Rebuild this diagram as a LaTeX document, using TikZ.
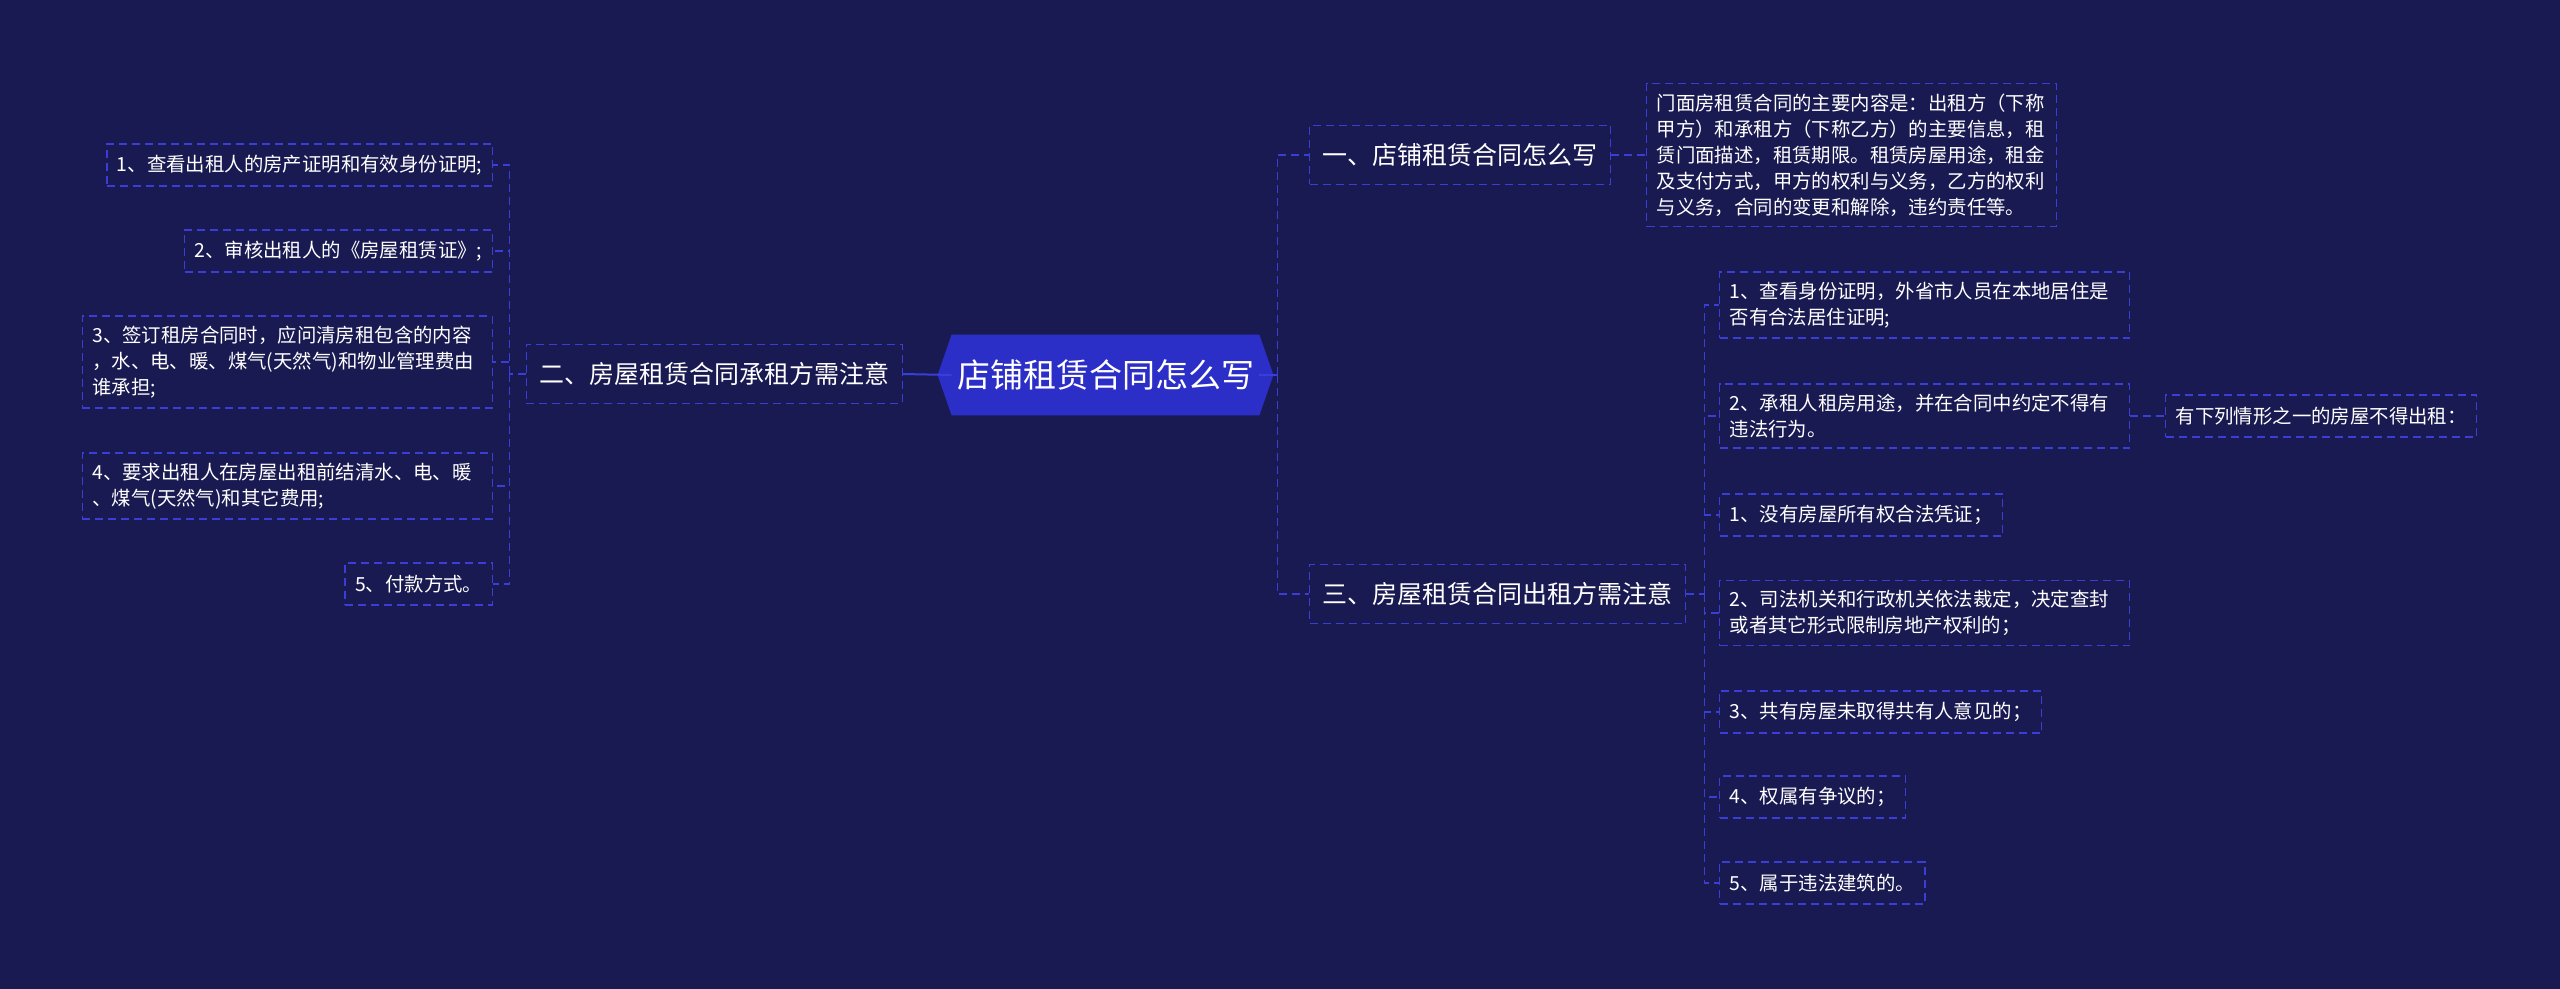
\documentclass[tikz,border=0pt]{standalone}
\usepackage{fontspec}
\setmainfont{Noto Sans CJK SC}
\usepackage{tikz}
\usetikzlibrary{positioning,calc,backgrounds}

\definecolor{fundo}{HTML}{1A1A52}
\definecolor{azulhex}{HTML}{2C2EC8}
\definecolor{linha}{HTML}{3A3ED6}

\begin{document}
\begin{tikzpicture}[
  x=0.5pt,y=-0.5pt,
  rootbox/.style={rectangle,minimum width=153.5pt,minimum height=40pt,inner sep=0pt,
    text=white,font=\fontsize{16.5pt}{20pt}\selectfont},
  ramo/.style={rectangle,draw=linha,dash pattern=on 4pt off 2.5pt,line width=0.7pt,
    text=white,inner xsep=6.5pt,minimum height=29.5pt,
    font=\fontsize{12.5pt}{15pt}\selectfont},
  folha/.style={rectangle,draw=linha,dash pattern=on 4pt off 2.5pt,line width=0.7pt,
    text=white,align=left,inner xsep=5pt,inner ysep=5pt,minimum height=21pt,
    font=\fontsize{9.7pt}{13pt}\selectfont},
  largo/.style={text width=195pt},
  conn/.style={draw=linha,line width=0.8pt,dash pattern=on 4pt off 2.5pt},
  haste/.style={draw=linha,line width=1pt}
]
% ── Nó central ───────────────────────────────────────────────────────────────
\node[rootbox] (raiz) at (1105.5,375) {店铺租赁合同怎么写};

% ── Ramo esquerdo (二) ───────────────────────────────────────────────────────
\node[ramo,anchor=east] (B) at (903,374) {二、房屋租赁合同承租方需注意};
\node[folha,anchor=east] (B1) at (493,165) {1、查看出租人的房产证明和有效身份证明;};
\node[folha,anchor=east] (B2) at (493,251) {2、审核出租人的《房屋租赁证》;};
\node[folha,largo,anchor=east] (B3) at (493,362)
  {3、签订租房合同时，应问清房租包含的内容\\，水、电、暖、煤气(天然气)和物业管理费由\\谁承担;};
\node[folha,largo,anchor=east] (B4) at (493,486)
  {4、要求出租人在房屋出租前结清水、电、暖\\、煤气(天然气)和其它费用;};
\node[folha,anchor=east] (B5) at (493,584) {5、付款方式。};

% ── Ramos direitos (一, 三) ──────────────────────────────────────────────────
\node[ramo,anchor=west] (A) at (1309,155) {一、店铺租赁合同怎么写};
\node[folha,largo,anchor=west] (A1) at (1646,155)
  {门面房租赁合同的主要内容是：出租方（下称\\甲方）和承租方（下称乙方）的主要信息，租\\赁门面描述，租赁期限。租赁房屋用途，租金\\及支付方式，甲方的权利与义务，乙方的权利\\与义务，合同的变更和解除，违约责任等。};

\node[ramo,anchor=west] (C) at (1309,594) {三、房屋租赁合同出租方需注意};
\node[folha,largo,anchor=west] (C1) at (1719,305)
  {1、查看身份证明，外省市人员在本地居住是\\否有合法居住证明;};
\node[folha,largo,anchor=west] (C2) at (1719,416)
  {2、承租人租房用途，并在合同中约定不得有\\违法行为。};
\node[folha,anchor=west] (C2a) at (2165,416) {有下列情形之一的房屋不得出租：};
\node[folha,anchor=west] (C3) at (1719,515) {1、没有房屋所有权合法凭证；};
\node[folha,largo,anchor=west] (C4) at (1719,613)
  {2、司法机关和行政机关依法裁定，决定查封\\或者其它形式限制房地产权利的；};
\node[folha,anchor=west] (C5) at (1719,712) {3、共有房屋未取得共有人意见的；};
\node[folha,anchor=west] (C6) at (1719,797) {4、权属有争议的；};
\node[folha,anchor=west] (C7) at (1719,883) {5、属于违法建筑的。};

% ── Ligações ─────────────────────────────────────────────────────────────────
\draw[haste] (raiz.west) -- (B.east);
\draw[haste] (raiz.east) -- ++(9pt,0) coordinate (jR);
\draw[conn] (jR) |- (A.west);
\draw[conn] (jR) |- (C.west);

\coordinate (jB) at ($(B.west)+(-8pt,0)$);
\draw[conn] (B.west) -- (jB);
\foreach \f in {B1,B2,B3,B4,B5}
  \draw[conn] (jB) |- (\f.east);

\coordinate (jC) at ($(C.east)+(9pt,0)$);
\draw[conn] (C.east) -- (jC);
\foreach \f in {C1,C2,C3,C4,C5,C6,C7}
  \draw[conn] (jC) |- (\f.west);

\draw[conn] (A.east) -- (A1.west);
\draw[conn] (C2.east) -- (C2a.west);

% ── Fundo e hexágono ─────────────────────────────────────────────────────────
\begin{scope}[on background layer]
  \fill[fundo] (0,0) rectangle (2560,989);
  \fill[azulhex] ([xshift=-7pt]raiz.west) -- (raiz.north west) -- (raiz.north east)
    -- ([xshift=7pt]raiz.east) -- (raiz.south east) -- (raiz.south west) -- cycle;
\end{scope}
\end{tikzpicture}
\end{document}
